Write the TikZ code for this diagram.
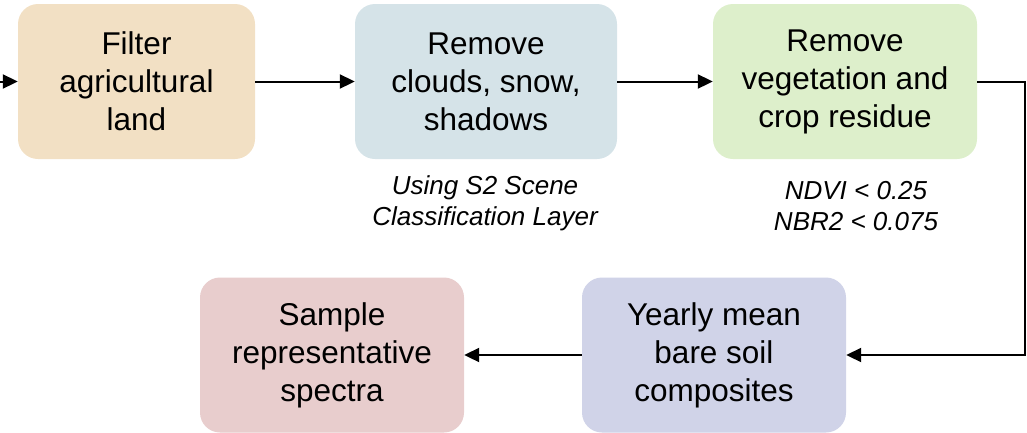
\documentclass[tikz,border=0pt]{standalone}
\usepackage{fontspec}
\setmainfont{Liberation Sans}
\usetikzlibrary{arrows.meta}
\definecolor{cA}{HTML}{F2E0C4}
\definecolor{cB}{HTML}{D5E3E8}
\definecolor{cC}{HTML}{DDEFCB}
\definecolor{cD}{HTML}{E8CDCD}
\definecolor{cE}{HTML}{D0D3E8}
\tikzset{
  stepbox/.style={rounded corners=20pt, minimum height=155pt, inner sep=0pt, align=center, font=\fontsize{31.5}{38}\selectfont},
  note/.style={align=center, inner sep=0pt, font=\fontsize{26}{31}\selectfont\itshape},
  conn/.style={line width=2pt, -{Triangle[length=15pt,width=14pt]}}
}
\begin{document}
\begin{tikzpicture}[x=1pt,y=-1pt]
\useasboundingbox (0,0) rectangle (1027,432);
\node[stepbox, fill=cA, minimum width=237pt] (f1) at (136.5,81.5) {Filter\\agricultural\\land};
\node[stepbox, fill=cB, minimum width=262pt] (f2) at (486,81.5) {Remove\\clouds, snow,\\shadows};
\node[stepbox, fill=cC, minimum width=264pt] (f3) at (845,81.5) {Remove\\vegetation and\\crop residue};
\node[stepbox, fill=cE, minimum width=264pt] (f5) at (714,355) {Yearly mean\\bare soil\\composites};
\node[stepbox, fill=cD, minimum width=264pt] (f4) at (332,355) {Sample\\representative\\spectra};
\node[note] (n1) at (485,203) {Using S2 Scene\\Classification Layer};
\node[note] (n2) at (856,206) {NDVI < 0.25\\NBR2 < 0.075};
\coordinate (s) at (-2,81.5);
\coordinate (c1) at (1025,81.5);
\coordinate (c2) at (1025,355);
\draw[conn] (s) -- (f1.west);
\draw[conn] (f1.east) -- (f2.west);
\draw[conn] (f2.east) -- (f3.west);
\draw[conn] (f3.east) -- (c1) -- (c2) -- (f5.east);
\draw[conn] (f5.west) -- (f4.east);
\end{tikzpicture}
\end{document}
